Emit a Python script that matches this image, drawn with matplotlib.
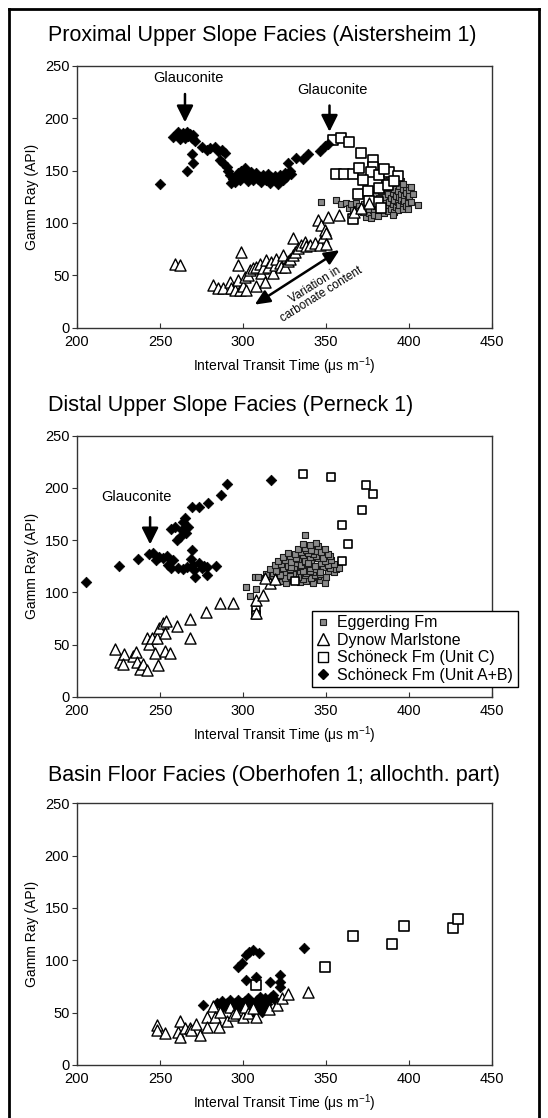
import matplotlib
matplotlib.use("Agg")
import matplotlib.pyplot as plt
from matplotlib.lines import Line2D

plt.rcParams["font.family"] = ["Liberation Sans", "DejaVu Sans"]
plt.rcParams["mathtext.default"] = "regular"

# ---------------- data: panel 1 (Aistersheim 1) ----------------
p1_egg_x = [347, 356, 359, 362, 364, 365, 368, 370, 371, 373, 374, 376, 377, 378, 379, 380, 381, 382,
            383, 384, 385, 385, 386, 386, 387, 387, 388, 388, 389, 389, 390, 390, 390, 391, 391, 391,
            392, 392, 392, 393, 393, 393, 394, 394, 394, 395, 395, 395, 396, 396, 396, 397, 397, 398,
            398, 398, 399, 399, 400, 400, 401, 402, 405, 380, 382, 384, 386, 388, 385, 383, 379, 377,
            375, 372, 369, 366, 396, 399, 401, 390]
p1_egg_y = [120, 122, 118, 119, 114, 118, 119, 116, 112, 118, 106, 109, 105, 112, 108, 116, 107, 113,
            118, 121, 109, 125, 131, 116, 128, 111, 134, 120, 124, 113, 137, 129, 118, 132, 122, 110,
            126, 139, 115, 130, 120, 112, 135, 125, 117, 128, 122, 140, 132, 118, 113, 126, 121, 134,
            129, 116, 123, 119, 131, 126, 120, 128, 117, 128, 124, 134, 138, 142, 140, 130, 121, 118,
            113, 110, 111, 112, 137, 113, 134, 108]

p1_dyn_x = [259, 262, 282, 285, 288, 292, 293, 295, 298, 299, 297, 297, 300, 302, 301, 303, 304, 306,
            308, 308, 310, 311, 313, 312, 314, 315, 317, 318, 319, 320, 322, 323, 324, 325, 327, 328,
            330, 330, 331, 333, 335, 337, 338, 340, 343, 345, 346, 347, 348, 349, 350, 350, 351, 358,
            367, 371, 376]
p1_dyn_y = [61, 59.5, 41, 38, 37.5, 44, 38, 36, 36, 72.5, 60, 45.5, 40, 36, 48.7, 50, 55, 56.6,
            40, 58, 61, 52, 44, 56.6, 64.6, 58, 63, 51.8, 60, 66, 62, 58, 69, 58, 64, 66,
            86, 69, 72, 75.7, 79, 82, 78, 79, 80.5, 102.7, 79, 98, 87, 93, 90, 80, 106, 107.5,
            110.7, 114, 118.6]

p1_schc_x = [354, 359, 364, 371, 378, 378, 356, 361, 366, 370, 369, 375, 382, 381, 383, 366, 377, 382,
             388, 393, 372, 387, 391, 376, 385]
p1_schc_y = [179, 181, 177, 167, 160, 153.6, 147, 147, 147, 152, 128, 130, 133, 120, 114, 103.5, 149, 146,
             149, 145, 141, 136, 140, 121, 151]

p1_schab_x = [250, 258, 260, 261, 262, 263, 264, 265, 266, 267, 268, 269, 270, 271, 269, 270, 266, 275,
              278, 280, 283, 285, 287, 289, 286, 288, 290, 291, 292, 293, 294, 295, 296, 297, 298, 299,
              300, 301, 302, 303, 304, 305, 306, 307, 308, 309, 310, 311, 312, 313, 314, 315, 316, 317,
              318, 319, 320, 321, 322, 323, 324, 325, 326, 327, 328, 329, 332, 336, 339, 346, 349, 351]
p1_schab_y = [137, 182, 185, 187, 180, 184, 186, 181, 187, 183, 185, 181, 184, 178, 166, 157, 149.5, 172,
              170, 171, 172, 169, 170, 167, 160, 157, 153, 150, 146, 138, 142, 139, 144, 148, 141, 150,
              145, 152, 147, 140, 143, 149, 141, 145, 148, 142, 144, 139, 146, 143, 141, 147, 138, 144,
              142, 145, 140, 137, 146, 143, 141, 148, 144, 157, 150, 147, 162, 161, 166, 169, 173, 175]

# ---------------- data: panel 2 (Perneck 1) ----------------
p2_egg_x = [302, 304, 307.7, 307, 309, 337,
            318, 322, 326, 330, 334, 338, 342, 346, 349, 320, 336,
            313, 317, 321, 325, 329, 333, 337, 341, 345, 350, 331, 343,
            314, 318, 322, 326, 330, 334, 338, 342, 346, 351, 355, 328, 340,
            316, 320, 324, 328, 332, 336, 340, 344, 348, 352, 356, 358, 334, 346,
            319, 323, 327, 331, 335, 339, 343, 347, 351, 355, 337, 329,
            321, 325, 329, 333, 337, 341, 345, 349, 353, 339, 332,
            324, 328, 332, 336, 340, 344, 348, 352, 342,
            327, 331, 335, 339, 343, 347, 351, 338,
            333, 337, 341, 345, 349, 336, 340, 344]
p2_egg_y = [105, 97, 103, 115, 115, 154.6,
            110, 111, 109, 112, 110, 111, 109, 112, 108.8, 113, 113,
            114, 115, 116, 114, 116, 115, 117, 114, 116, 115, 118, 117,
            118, 119, 117, 120, 118, 121, 119, 120, 118, 121, 120, 116, 121,
            122, 121, 123, 122, 124, 121, 123, 122, 124, 123, 122, 123, 125, 120,
            126, 127, 125, 128, 126, 127, 125, 128, 126, 127, 129, 124,
            130, 131, 129, 132, 130, 131, 133, 130, 131, 128, 133,
            134, 135, 133, 136, 134, 135, 133, 135, 137,
            138, 137, 139, 138, 140, 139, 137, 141,
            142, 143, 141, 144, 142, 146, 145, 147]

p2_dyn_x = [222.9, 225.9, 228.3, 227.9, 233.5, 235.5, 236, 237.9, 239.5, 241.9, 241.9, 243.3, 244.9,
            247, 248, 249, 249.6, 252, 253.6, 253, 253, 256, 260, 268, 268, 277.6, 286, 294, 307.5,
            312, 316, 313, 319, 307.5]
p2_dyn_y = [45.6, 33.8, 41, 32, 39, 43, 33.8, 26.5, 32, 25.8, 56, 51, 56,
            41.8, 56, 30.6, 65.7, 70.5, 73, 61.5, 44.3, 41.8, 68, 75, 56, 81.6, 89.6, 89.6, 92.8,
            97.6, 108.7, 113.5, 112.6, 80]

p2_schc_x = [335.8, 352.7, 373.8, 378.4, 371.7, 359.3, 363, 359.3, 331, 307.5, 307.5]
p2_schc_y = [213, 210.8, 202.8, 194.5, 179, 164.5, 146.7, 130.4, 111, 83, 78.4]

p2_schab_x = [205.4, 225.5, 236.5, 243.3, 245.5, 247.6, 249.6, 252.0, 254.0, 255.0, 256.6, 258.0, 260.6,
              263.6, 266.0, 268.4, 269.0, 270.0, 270.4, 271.0, 273.6, 275.0, 276.4, 278.0, 278.4, 283.5,
              256.4, 259.0, 262.0, 260.0, 263.6, 265.0, 266.6, 263.0, 265.6, 269.0, 273.6, 279.1, 286.5,
              290.1, 316.8]
p2_schab_y = [110.0, 125.6, 131.7, 136.5, 137.4, 131.1, 134.2, 132.7, 134.9, 126.3, 123.1, 131.1, 123.7,
              122.1, 124.7, 131.7, 140.6, 126.3, 121.5, 115.1, 127.9, 123.1, 125.3, 116.7, 124.7, 125.6,
              160.4, 162.9, 153.4, 150.2, 167.7, 170.9, 162.9, 159.8, 156.6, 181.4, 182.1, 185.9, 193.2,
              203.4, 207.6]

# ---------------- data: panel 3 (Oberhofen 1) ----------------
p3_dyn_x = [248, 248, 253, 261, 262, 262, 265, 268, 268.6, 271.6, 273.9, 278, 278, 282, 283, 285.7,
            286, 290, 292, 294, 296, 300, 301, 303, 307.7, 306, 315.8, 320.3, 323.3, 327.2, 339.3]
p3_dyn_y = [38.2, 33.4, 31, 31.8, 42.4, 27, 35, 35, 33.4, 39.2, 28.7, 46, 36, 56.4, 46.2, 36.6,
            50.9, 42.4, 55.7, 47.8, 49.4, 46.2, 55.7, 49.4, 46.2, 54, 53.2, 57.3, 63.7, 67.5, 70.1]

p3_schc_x = [307.7, 349.3, 365.9, 389.8, 397, 426.5, 429.1]
p3_schc_y = [76.4, 93.3, 123.6, 115.3, 132.8, 130.6, 139.2]

p3_schab_x = [276, 284.1, 287.1, 288.1, 290.1, 292.1, 292.1, 295.1, 297.1, 298.1, 299.1, 301.1, 303.1,
              304.1, 306.1, 306.1, 308.1, 309.1, 310.2, 311.2, 311.2, 312.2, 313.2, 314.2, 315.2, 316.6,
              318.2, 319.2, 297, 299.6, 302, 303.6, 305.7, 309.7, 302, 307.7, 316.3, 321.9, 321.9,
              321.9, 336.6]
p3_schab_y = [57.3, 58.9, 61.5, 55.7, 59.6, 62.1, 54.1, 59.6, 62.1, 55.7, 59.6, 61.5, 63.7,
              57.3, 58.9, 51, 62.1, 55.7, 64.6, 58.9, 51, 54.1, 63.7, 58.3, 62.1, 65.3,
              66.9, 62.1, 94, 97, 105, 108.3, 110, 107.3, 81.2, 83.8, 79.6, 86, 79.6,
              74.8, 111.5]

panel_titles = ["Proximal Upper Slope Facies (Aistersheim 1)",
                "Distal Upper Slope Facies (Perneck 1)",
                "Basin Floor Facies (Oberhofen 1; allochth. part)"]
legend_labels = ["Eggerding Fm", "Dynow Marlstone", "Schöneck Fm (Unit C)", "Schöneck Fm (Unit A+B)"]
x_ticks = [200, 250, 300, 350, 400, 450]
y_ticks = [0, 50, 100, 150, 200, 250]

# ---------------- layout (pixels of the 548x1118 canvas) ----------------
W, H = 548, 1118
AX_L, AX_R = 77, 492.3
panel_px = [(65.7, 327.7), (435.7, 697), (803.3, 1065)]
title_px = [35, 405, 775]

EGG = dict(marker="s", s=3.8 ** 2, facecolor="#8a8a8a", edgecolor="#1a1a1a", linewidths=0.8)
DYN = dict(marker="^", s=8 ** 2, facecolor="white", edgecolor="black", linewidths=1.0)
SCHC = dict(marker="s", facecolor="white", edgecolor="black", linewidths=1.2)
SCHAB = dict(marker="D", s=5.4 ** 2, facecolor="black", edgecolor="black", linewidths=0.5)


def make_axes(fig, i):
    top, bottom = panel_px[i]
    ax = fig.add_axes([AX_L / W, 1 - bottom / H, (AX_R - AX_L) / W, (bottom - top) / H])
    ax.set_xlim(200, 450)
    ax.set_ylim(0, 250)
    ax.set_xticks(x_ticks)
    ax.set_yticks(y_ticks)
    ax.tick_params(axis="x", direction="in", length=3.5, labelsize=10.5, pad=5, color="#333333")
    ax.tick_params(axis="y", direction="out", length=3.5, labelsize=10.5, pad=2, color="#333333")
    for sp in ax.spines.values():
        sp.set_linewidth(1.0)
        sp.set_color("#333333")
    ax.set_xlabel("Interval Transit Time (μs m$^{-1}$)", fontsize=10, labelpad=5)
    ax.set_ylabel("Gamm Ray (API)", fontsize=10, labelpad=4)
    fig.text(48.3 / W, 1 - title_px[i] / H, panel_titles[i], fontsize=15.5, va="center", ha="left")
    return ax


def glauconite(ax, x_text, y_text, x_arrow, y_tail, y_head):
    ax.text(x_text, y_text, "Glauconite", fontsize=10.5, ha="center", va="center")
    ax.annotate("", xy=(x_arrow, y_head), xytext=(x_arrow, y_tail),
                arrowprops=dict(arrowstyle="-|>,head_length=1.0,head_width=0.5", color="black",
                                lw=1.8, mutation_scale=10, shrinkA=0, shrinkB=0))


fig = plt.figure(figsize=(W / 100, H / 100), dpi=100)

# outer frame
fig.add_artist(Line2D([9 / W, 9 / W], [0, 1 - 9 / H], transform=fig.transFigure, color="black", lw=2))
fig.add_artist(Line2D([9 / W, 539 / W], [1 - 9 / H, 1 - 9 / H], transform=fig.transFigure, color="black", lw=2))
fig.add_artist(Line2D([539 / W, 539 / W], [0, 1 - 9 / H], transform=fig.transFigure, color="black", lw=2))

# panel 1
ax1 = make_axes(fig, 0)
ax1.scatter(p1_egg_x, p1_egg_y, zorder=2, **EGG)
ax1.scatter(p1_schc_x, p1_schc_y, s=7.5 ** 2, zorder=3, **SCHC)
ax1.scatter(p1_dyn_x, p1_dyn_y, zorder=4, **DYN)
ax1.scatter(p1_schab_x, p1_schab_y, zorder=5, **SCHAB)
glauconite(ax1, 267, 238, 265, 223, 196)
glauconite(ax1, 354, 227, 352, 212, 187)
ax1.annotate("", xy=(307, 22), xytext=(358, 74),
             arrowprops=dict(arrowstyle="<|-|>,head_length=1.0,head_width=0.45", color="black",
                             lw=1.8, mutation_scale=9, shrinkA=0, shrinkB=0))
ax1.text(345, 36, "Variation in\ncarbonate content", fontsize=8.5, ha="center", va="center",
         rotation=32, linespacing=0.95)

# panel 2
ax2 = make_axes(fig, 1)
ax2.scatter(p2_egg_x, p2_egg_y, zorder=2, **EGG)
ax2.scatter(p2_schc_x, p2_schc_y, s=5.8 ** 2, zorder=3, **SCHC)
ax2.scatter(p2_dyn_x, p2_dyn_y, zorder=4, **DYN)
ax2.scatter(p2_schab_x, p2_schab_y, zorder=5, **SCHAB)
glauconite(ax2, 236, 191, 244, 172, 146)

handles = [
    Line2D([], [], ls="none", marker="s", ms=4, mfc="#8a8a8a", mec="#1a1a1a", mew=0.8),
    Line2D([], [], ls="none", marker="^", ms=8, mfc="white", mec="black", mew=1.0),
    Line2D([], [], ls="none", marker="s", ms=7, mfc="white", mec="black", mew=1.0),
    Line2D([], [], ls="none", marker="D", ms=5, mfc="black", mec="black"),
]
leg = ax2.legend(handles, legend_labels, loc="lower left", bbox_to_anchor=(0.565, 0.037),
                 frameon=True, fancybox=False, edgecolor="black", framealpha=1, fontsize=11.5,
                 handlelength=0.8, handletextpad=0.5, borderpad=0.3, labelspacing=0.15,
                 borderaxespad=0)
leg.get_frame().set_linewidth(1.0)
leg.set_zorder(10)

# panel 3
ax3 = make_axes(fig, 2)
ax3.scatter(p3_schc_x, p3_schc_y, s=7 ** 2, zorder=3, **SCHC)
ax3.scatter(p3_schab_x, p3_schab_y, zorder=4, **SCHAB)
ax3.scatter(p3_dyn_x, p3_dyn_y, zorder=5, **DYN)

fig.savefig("out.png", dpi=100)
